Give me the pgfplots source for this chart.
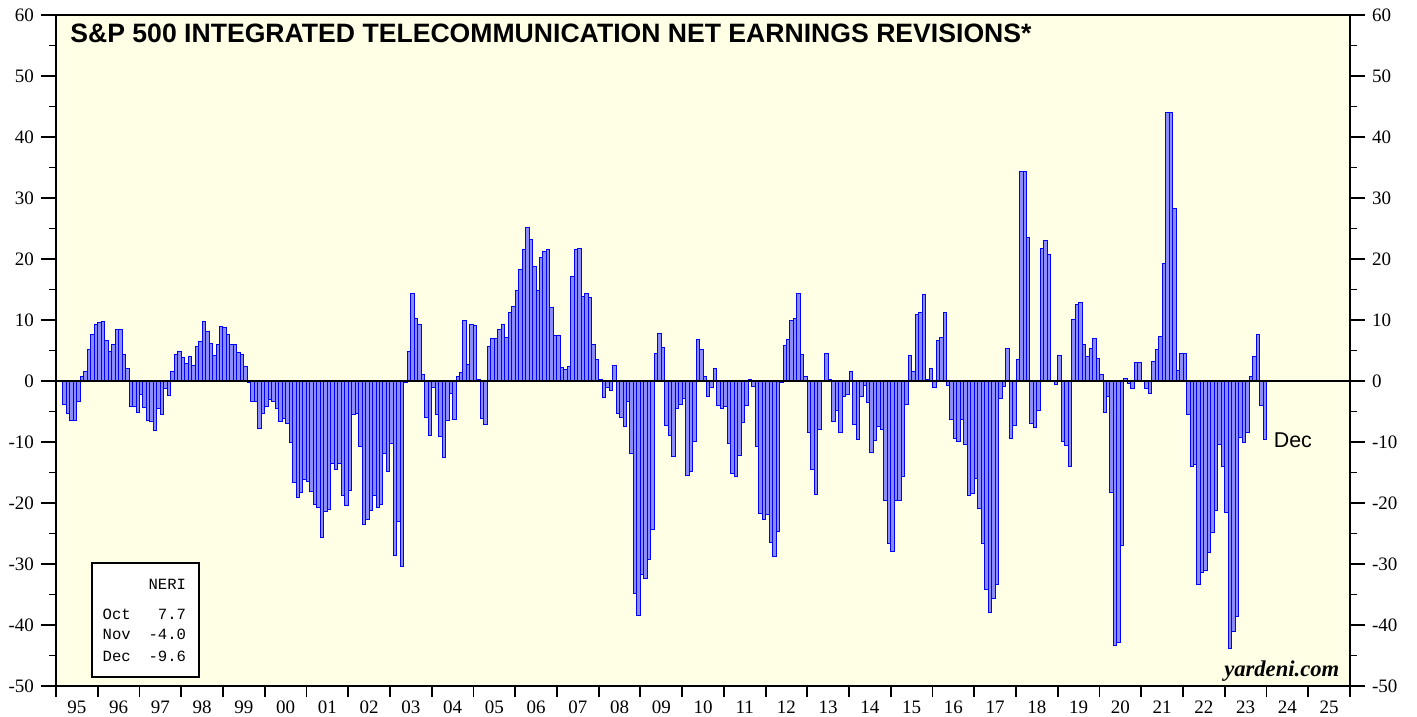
\documentclass[border=0pt]{standalone}
\usepackage{pgfplots}
\pgfplotsset{compat=1.18}
\usepackage{fontspec}
\setmainfont{Liberation Serif}
\newfontfamily\arialf{Liberation Sans}
\newfontfamily\courf{Liberation Mono}
\definecolor{bgy}{RGB}{255,255,230}
\definecolor{barfill}{RGB}{140,140,255}
\begin{document}
\begin{tikzpicture}
\pgfplotsset{
  base/.style={
    width=647pt, height=335.5pt, scale only axis,
    xmin=0, xmax=372, ymin=-50, ymax=60,
    axis line style={line width=1.2pt},
    tick style={black, line width=0.9pt},
    tick align=outside,
    tick label style={font=\fontsize{9.5}{10}\selectfont},
  },
  ylabs/.style={
    ytick={-50,-40,-30,-20,-10,0,10,20,30,40,50,60},
    yticklabels={-50,-40,-30,-20,-10,0,10,20,30,40,50,60},
    minor ytick={-45,-35,-25,-15,-5,5,15,25,35,45,55},
    major tick length=7.5pt, minor tick length=3.5pt,
  }
}
\begin{axis}[base, ylabs,
  axis background/.style={fill=bgy},
  xtick={6,18,...,366},
  xticklabels={95,96,97,98,99,00,01,02,03,04,05,06,07,08,09,10,11,12,13,14,15,16,17,18,19,20,21,22,23,24,25},
  xtick style={draw=none},
  xticklabel style={yshift=3.5pt},
  ytick pos=left,
  x filter/.expression={x+0.5},
]
\addplot[ybar, bar width=1, fill=barfill, draw=blue, line width=0.5pt] coordinates {
(2,-3.9) (3,-5.3) (4,-6.5) (5,-6.5) (6,-3.3) (7,0.8) (8,1.5) (9,5.1) (10,7.7) (11,9.3)
(12,9.6) (13,9.7) (14,6.6) (15,4.9) (16,5.9) (17,8.5) (18,8.4) (19,4.3) (20,2.1) (21,-4.2) (22,-4.2) (23,-5.2)
(24,-2.2) (25,-4.4) (26,-6.4) (27,-6.7) (28,-8.1) (29,-4.5) (30,-5.5) (31,-1.3) (32,-2.3) (33,1.5) (34,4.3) (35,4.8)
(36,3.9) (37,2.8) (38,4.0) (39,2.5) (40,5.6) (41,6.4) (42,9.8) (43,8.1) (44,6.1) (45,4.1) (46,6.0) (47,8.9)
(48,8.7) (49,7.7) (50,5.9) (51,5.9) (52,4.6) (53,4.4) (54,2.4) (55,-0.2) (56,-3.4) (57,-3.4) (58,-7.8) (59,-5.4)
(60,-4.2) (61,-3.1) (62,-3.4) (63,-4.5) (64,-6.7) (65,-6.2) (66,-7.0) (67,-10.1) (68,-16.6) (69,-19.1) (70,-18.2) (71,-16.2)
(72,-16.5) (73,-18.1) (74,-20.2) (75,-20.8) (76,-25.6) (77,-21.4) (78,-21.1) (79,-13.5) (80,-14.5) (81,-13.5) (82,-18.7) (83,-20.4)
(84,-17.9) (85,-5.5) (86,-5.4) (87,-10.7) (88,-23.5) (89,-22.7) (90,-21.3) (91,-18.8) (92,-20.8) (93,-20.3) (94,-11.9) (95,-14.9)
(96,-10.2) (97,-28.6) (98,-23.1) (99,-30.4) (100,-0.3) (101,4.8) (102,14.4) (103,10.2) (104,9.3) (105,1.0) (106,-6.0) (107,-8.9)
(108,-1.0) (109,-5.5) (110,-9.1) (111,-12.5) (112,-6.4) (113,-2.1) (114,-6.3) (115,0.7) (116,1.4) (117,9.9) (118,2.7) (119,9.2)
(120,9.1) (121,0.3) (122,-6.2) (123,-7.2) (124,5.7) (125,6.9) (126,7.0) (127,8.4) (128,9.3) (129,7.2) (130,11.3) (131,12.2)
(132,14.8) (133,18.2) (134,21.6) (135,25.1) (136,23.2) (137,18.7) (138,14.9) (139,20.2) (140,21.2) (141,21.5) (142,12.0) (143,7.4)
(144,7.4) (145,2.2) (146,1.9) (147,2.3) (148,17.2) (149,21.5) (150,21.8) (151,13.9) (152,14.3) (153,13.7) (154,6.0) (155,3.6)
(156,0.2) (157,-2.7) (158,-1.0) (159,-1.6) (160,2.6) (161,-5.3) (162,-6.0) (163,-7.4) (164,-3.3) (165,-11.9) (166,-34.8) (167,-38.4)
(168,-31.7) (169,-32.4) (170,-29.3) (171,-24.4) (172,4.5) (173,7.8) (174,5.5) (175,-7.3) (176,-9.0) (177,-12.3) (178,-4.5) (179,-3.8)
(180,-2.8) (181,-15.5) (182,-14.8) (183,-9.9) (184,6.8) (185,5.2) (186,0.8) (187,-2.5) (188,-1.1) (189,2.0) (190,-4.0) (191,-4.5)
(192,-4.2) (193,-10.3) (194,-15.2) (195,-15.7) (196,-12.2) (197,-6.8) (198,-4.0) (199,0.3) (200,-0.9) (201,-10.7) (202,-21.7) (203,-22.7)
(204,-21.9) (205,-26.4) (206,-28.7) (207,-24.6) (208,-0.3) (209,5.8) (210,6.8) (211,9.9) (212,10.2) (213,14.3) (214,4.4) (215,0.8)
(216,-8.5) (217,-14.5) (218,-18.6) (219,-7.9) (220,0.1) (221,4.5) (222,0.3) (223,-6.6) (224,-4.9) (225,-8.4) (226,-2.5) (227,-2.2)
(228,1.5) (229,-7.1) (230,-9.6) (231,-2.5) (232,-0.8) (233,-3.6) (234,-11.7) (235,-9.8) (236,-7.4) (237,-7.9) (238,-19.6) (239,-26.6)
(240,-27.9) (241,-19.6) (242,-19.6) (243,-15.6) (244,-3.8) (245,4.1) (246,1.6) (247,10.9) (248,11.3) (249,14.2) (250,0.2) (251,2.0)
(252,-1.1) (253,6.6) (254,7.1) (255,11.3) (256,-0.7) (257,-6.3) (258,-9.5) (259,-9.9) (260,-6.3) (261,-10.4) (262,-18.7) (263,-18.4)
(264,-16.0) (265,-20.9) (266,-26.6) (267,-34.2) (268,-37.9) (269,-35.7) (270,-33.4) (271,-2.8) (272,-0.9) (273,5.3) (274,-9.5) (275,-7.3)
(276,3.5) (277,34.4) (278,34.4) (279,23.5) (280,-7.0) (281,-7.6) (282,-4.9) (283,21.8) (284,23.0) (285,20.8) (286,0.1) (287,-0.5)
(288,4.1) (289,-10.0) (290,-10.5) (291,-14.0) (292,10.1) (293,12.5) (294,12.9) (295,5.9) (296,4.0) (297,5.3) (298,6.9) (299,3.7)
(300,1.0) (301,-5.1) (302,-2.5) (303,-18.2) (304,-43.4) (305,-42.8) (306,-26.9) (307,0.4) (308,-0.4) (309,-1.3) (310,3.1) (311,3.1)
(312,0.1) (313,-1.3) (314,-2.0) (315,3.2) (316,5.2) (317,7.3) (318,19.2) (319,44.0) (320,44.0) (321,28.3) (322,1.7) (323,4.5)
(324,4.5) (325,-5.5) (326,-14.1) (327,-13.7) (328,-33.3) (329,-31.4) (330,-31.1) (331,-28.1) (332,-24.9) (333,-21.2) (334,-10.4) (335,-14.0)
(336,-21.6) (337,-43.9) (338,-41.0) (339,-38.6) (340,-9.3) (341,-10.1) (342,-8.5) (343,0.8) (344,4.0) (345,7.7) (346,-4.0) (347,-9.6)
};
\draw[line width=0.6pt] (axis cs:0,0) -- (axis cs:372,0);
\node[anchor=north west, inner sep=0pt, font=\arialf\bfseries\fontsize{13.3}{14}\selectfont] at (rel axis cs:0.0108,0.9866) {S\&P 500 INTEGRATED TELECOMMUNICATION NET EARNINGS REVISIONS*};
\node[anchor=west, inner sep=0pt, font=\arialf\fontsize{10.7}{12}\selectfont] at (axis cs:350,-9.7) {Dec};
\node[anchor=base east, inner sep=0pt, font=\bfseries\itshape\fontsize{11.3}{12}\selectfont] at (axis cs:369,-48.5) {yardeni.com};
\draw[line width=0.9pt, fill=white] (axis cs:10.4,-48.5) rectangle (axis cs:41.2,-29.8);
\node[anchor=east, inner sep=0pt, font=\courf\fontsize{7.8}{9}\selectfont] at (axis cs:37.5,-33.4) {NERI};
\node[anchor=west, inner sep=0pt, font=\courf\fontsize{7.8}{9}\selectfont] at (axis cs:13.3,-38.2) {Oct};
\node[anchor=west, inner sep=0pt, font=\courf\fontsize{7.8}{9}\selectfont] at (axis cs:13.3,-41.6) {Nov};
\node[anchor=west, inner sep=0pt, font=\courf\fontsize{7.8}{9}\selectfont] at (axis cs:13.3,-45.1) {Dec};
\node[anchor=east, inner sep=0pt, font=\courf\fontsize{7.8}{9}\selectfont] at (axis cs:37.5,-38.2) {7.7};
\node[anchor=east, inner sep=0pt, font=\courf\fontsize{7.8}{9}\selectfont] at (axis cs:37.5,-41.6) {-4.0};
\node[anchor=east, inner sep=0pt, font=\courf\fontsize{7.8}{9}\selectfont] at (axis cs:37.5,-45.1) {-9.6};
\end{axis}
\begin{axis}[base, ylabs,
  xtick=\empty,
  ytick pos=right, yticklabel pos=right,
]
\end{axis}
\begin{axis}[base,
  ytick=\empty,
  xtick={0,12,...,372}, xticklabels={},
  xtick pos=bottom,
  major tick length=5.5pt,
]
\end{axis}
\pgfresetboundingbox
\path[use as bounding box] ([xshift=-28pt,yshift=-15.5pt]current axis.south west) rectangle ([xshift=33.5pt,yshift=7.5pt]current axis.north east);
\end{tikzpicture}
\end{document}
